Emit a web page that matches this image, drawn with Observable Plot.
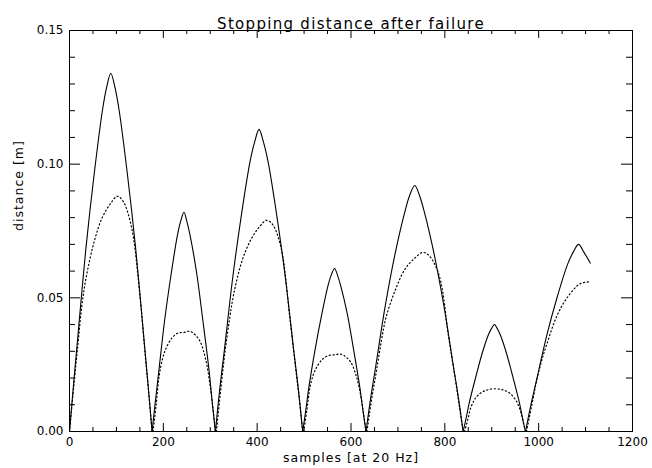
<!DOCTYPE html>
<html>
<head>
<meta charset="utf-8">
<script src="https://cdn.jsdelivr.net/npm/d3@7"></script>
<script src="https://cdn.jsdelivr.net/npm/@observablehq/plot@0.6"></script>
<style>
  html, body { margin: 0; padding: 0; background: #fff; }
  #chart { width: 652px; height: 468px; }
  .lbl text { letter-spacing: 1px; }
  .ttl text { letter-spacing: 1.3px; }
</style>
</head>
<body>
<div id="chart"></div>
<script>
// ---- Data ----
const titleText = "Stopping distance after failure";
const xLabelText = "samples [at 20 Hz]";
const yLabelText = "distance [m]";

const xTickValues = [0, 200, 400, 600, 800, 1000, 1200];
const xMinorValues = [50,100,150,250,300,350,450,500,550,650,700,750,850,900,950,1050,1100,1150];
const yTickValues = [0.00, 0.05, 0.10, 0.15];
const yMinorValues = [0.01,0.02,0.03,0.04,0.06,0.07,0.08,0.09,0.11,0.12,0.13,0.14];

// Solid curve: each arch listed with both of its zero points
const solidX = [
  0, 9, 18, 35, 53, 70, 79, 88, 97, 106, 123, 141, 158, 167, 176,
  176, 183, 190, 203, 217, 230, 237, 244, 250, 257, 271, 284, 298, 304, 311,
  311, 320, 330, 348, 367, 385, 395, 404, 413, 423, 441, 460, 478, 488, 497,
  497, 504, 510, 524, 538, 551, 558, 565, 571, 578, 592, 605, 619, 625, 632,
  632, 642, 653, 673, 694, 715, 725, 736, 746, 756, 777, 798, 818, 829, 839,
  839, 846, 852, 866, 879, 892, 899, 906, 912, 919, 932, 945, 959, 965, 972,
  972, 983, 995, 1017, 1040, 1062, 1074, 1085, 1096, 1110
];
const solidY = [
  0, .0184, .0359, .0685, .0969, .1199, .1286, .134, .1286, .1199, .0969, .0685, .0359, .0184, 0,
  0, .0112, .0220, .0419, .0593, .0734, .0787, .082, .0787, .0734, .0593, .0419, .0220, .0112, 0,
  0, .0155, .0303, .0577, .0817, .1011, .1085, .113, .1085, .1011, .0817, .0577, .0303, .0155, 0,
  0, .0084, .0163, .0312, .0441, .0546, .0586, .061, .0586, .0546, .0441, .0312, .0163, .0084, 0,
  0, .0126, .0247, .0470, .0665, .0823, .0883, .092, .0883, .0823, .0665, .0470, .0247, .0126, 0,
  0, .0055, .0107, .0204, .0289, .0358, .0384, .040, .0384, .0358, .0289, .0204, .0107, .0055, 0,
  0, .0096, .0188, .0358, .0506, .0627, .0672, .070, .0672, .063
];

// Dotted curve
const dottedX = [
  0, 9, 18, 26, 35, 53, 70, 88, 102, 114, 132, 150, 162, 169, 176,
  178, 185, 191, 198, 205, 218, 231, 245, 255, 264, 278, 291, 300, 306, 311,
  313, 322, 331, 341, 350, 368, 387, 405, 420, 433, 451, 469, 482, 490, 497,
  499, 506, 512, 519, 526, 539, 552, 566, 576, 585, 599, 612, 621, 627, 632,
  634, 644, 655, 665, 675, 696, 716, 737, 753, 767, 788, 808, 823, 831, 839,
  842, 849, 855, 862, 868, 881, 894, 907, 917, 927, 940, 953, 962, 967, 972,
  974, 985, 995, 1006, 1017, 1040, 1062, 1085, 1096, 1110
];
const dottedY = [
  0, .0167, .0326, .0466, .0572, .0713, .0801, .0854, .088, .0862, .0766, .0510, .0273, .0141, 0,
  0, .0105, .0206, .0270, .0308, .0349, .0368, .0371, .0375, .0368, .0338, .0263, .0169, .0083, 0,
  0, .0150, .0292, .0419, .0514, .0640, .0719, .0766, .079, .0774, .0687, .0435, .0237, .0119, 0,
  0, .0081, .0160, .0209, .0238, .0270, .0284, .0287, .029, .0284, .0261, .0203, .0131, .0064, 0,
  0, .0121, .0235, .0342, .0429, .0536, .0610, .0650, .067, .0657, .0583, .0355, .0188, .0094, 0,
  0, .0045, .0088, .0115, .0131, .0149, .0157, .016, .0158, .0154, .0141, .0112, .0072, .0035, 0,
  0, .0095, .0185, .0263, .0325, .0437, .0504, .0549, .0557, .056
];

// ---- Build tables (split into arches at zero end points) ----
function toSegments(xs, ys) {
  const out = [];
  let seg = 0, count = 0;
  for (let i = 0; i < xs.length; i++) {
    out.push({x: xs[i], y: ys[i], seg});
    count++;
    if (ys[i] === 0 && count > 1) { seg++; count = 0; }
  }
  return out;
}
const solidData = toSegments(solidX, solidY);
const dottedData = toSegments(dottedX, dottedY);

const W = 652, H = 468;
const mL = 69, mR = 20, mT = 30, mB = 37;
const pw = W - mL - mR, ph = H - mT - mB;
const font = "'DejaVu Sans', 'Liberation Sans', sans-serif";

const xMajorLen = 8, xMinorLen = 4, yMajorLen = 11, yMinorLen = 6;

const chart = Plot.plot({
  width: W, height: H,
  marginLeft: mL, marginRight: mR, marginTop: mT, marginBottom: mB,
  x: {domain: [0, 1200]},
  y: {domain: [0, 0.15]},
  style: {fontFamily: font, fontSize: "12px", background: "#fff", color: "#000", overflow: "visible"},
  marks: [
    // ticks (inward, on all four sides)
    Plot.tickX(xTickValues, {x: d => d, insetTop: ph - xMajorLen, stroke: "#000"}),
    Plot.tickX(xMinorValues, {x: d => d, insetTop: ph - xMinorLen, stroke: "#000"}),
    Plot.tickX(xTickValues, {x: d => d, insetBottom: ph - xMajorLen, stroke: "#000"}),
    Plot.tickX(xMinorValues, {x: d => d, insetBottom: ph - xMinorLen, stroke: "#000"}),
    Plot.tickY(yTickValues, {y: d => d, insetRight: pw - yMajorLen, stroke: "#000"}),
    Plot.tickY(yMinorValues, {y: d => d, insetRight: pw - yMinorLen, stroke: "#000"}),
    Plot.tickY(yTickValues, {y: d => d, insetLeft: pw - yMajorLen, stroke: "#000"}),
    Plot.tickY(yMinorValues, {y: d => d, insetLeft: pw - yMinorLen, stroke: "#000"}),
    Plot.frame({stroke: "#000", strokeWidth: 1}),
    // tick labels
    Plot.axisX(xTickValues, {anchor: "bottom", tickSize: 0, tickPadding: 6, label: null,
      tickFormat: d => String(d), fontSize: 12}),
    Plot.axisY(yTickValues, {anchor: "left", tickSize: 0, tickPadding: 6, label: null,
      tickFormat: d => d.toFixed(2), fontSize: 12}),
    // curves
    Plot.line(solidData, {x: "x", y: "y", z: "seg", curve: "catmull-rom",
      stroke: "#000", strokeWidth: 1.1}),
    Plot.line(dottedData, {x: "x", y: "y", z: "seg", curve: "catmull-rom",
      stroke: "#000", strokeWidth: 1.2, strokeDasharray: "1.2,2.6"}),
    // titles
    Plot.text([titleText], {frameAnchor: "top", dy: -12, fontSize: 15, fill: "#000", className: "ttl"}),
    Plot.text([xLabelText], {frameAnchor: "bottom", dy: 30, fontSize: 12.5, fill: "#000", className: "lbl"}),
    Plot.text([yLabelText], {frameAnchor: "left", dx: -51, rotate: -90, fontSize: 12.5, fill: "#000", className: "lbl"})
  ]
});
document.getElementById("chart").appendChild(chart);
</script>
</body>
</html>
